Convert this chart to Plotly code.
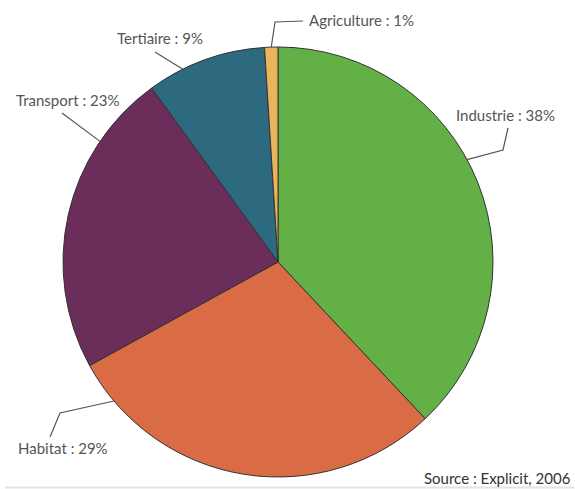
import math
import plotly.graph_objects as go

# Energy consumption share by sector (percent)
sectors = ["Industrie", "Habitat", "Transport", "Tertiaire", "Agriculture"]
shares = [38, 29, 23, 9, 1]
colors = ["#63b146", "#d96c45", "#6b2d59", "#2d6a7f", "#e8b45c"]
source_note = "Source : Explicit, 2006"

W, H = 575, 489
CX, CY, R = 278, 262, 215  # pie centre and radius in pixels

# Label layout: where the leader line leaves the rim (fraction inside the
# slice), the elbow point and the text anchor, all in pixels.
label_layout = {
    "Industrie":   dict(frac=0.45, elbow=(503, 150), end=(508, 128), text=(454, 115)),
    "Habitat":     dict(frac=0.89, elbow=(60, 413), end=(50, 437), text=(16, 448)),
    "Transport":   dict(frac=0.76, elbow=None, end=(62, 113), text=(14, 100)),
    "Tertiaire":   dict(frac=0.30, elbow=None, end=(155, 52), text=(115, 38)),
    "Agriculture": dict(frac=0.50, elbow=(275, 22), end=(303, 21), text=(307, 20)),
}

FONT = "Lato, 'Open Sans', sans-serif"


def px(x):
    return x / W


def py(y):
    return 1 - y / H


fig = go.Figure(
    go.Pie(
        labels=sectors,
        values=shares,
        sort=False,
        direction="clockwise",
        rotation=0,
        marker=dict(colors=colors, line=dict(color="#333333", width=1)),
        textinfo="none",
        hoverinfo="label+percent",
        domain=dict(x=[px(CX - R), px(CX + R)], y=[py(CY + R), py(CY - R)]),
        showlegend=False,
    )
)

shapes = []
annotations = []
total = sum(shares)
cum = 0
for name, val in zip(sectors, shares):
    lay = label_layout[name]
    angle = 2 * math.pi * (cum + val * lay["frac"]) / total
    cum += val
    ex = CX + R * math.sin(angle)
    ey = CY - R * math.cos(angle)
    pts = [(ex, ey)]
    if lay["elbow"]:
        pts.append(lay["elbow"])
    pts.append(lay["end"])
    path = "M " + " L ".join(f"{px(x):.5f},{py(y):.5f}" for x, y in pts)
    shapes.append(dict(type="path", xref="paper", yref="paper", path=path,
                       line=dict(color="#555555", width=1.2)))
    tx, ty = lay["text"]
    annotations.append(dict(
        x=px(tx), y=py(ty), xref="paper", yref="paper",
        xanchor="left", yanchor="middle", showarrow=False,
        text=f"{name} : {val}%",
        font=dict(family=FONT, size=15, color="#555555"),
    ))

annotations.append(dict(
    x=px(573), y=py(478), xref="paper", yref="paper",
    xanchor="right", yanchor="middle", showarrow=False,
    text=source_note,
    font=dict(family=FONT, size=15, color="#333333"),
))

# thin grey rule along the bottom edge
shapes.append(dict(type="line", xref="paper", yref="paper",
                   x0=px(5), x1=1, y0=py(487.5), y1=py(487.5),
                   line=dict(color="#e4e4e4", width=2)))

fig.update_layout(
    width=W, height=H,
    margin=dict(l=0, r=0, t=0, b=0),
    paper_bgcolor="white",
    plot_bgcolor="white",
    shapes=shapes,
    annotations=annotations,
)

fig.write_html("out.html")
